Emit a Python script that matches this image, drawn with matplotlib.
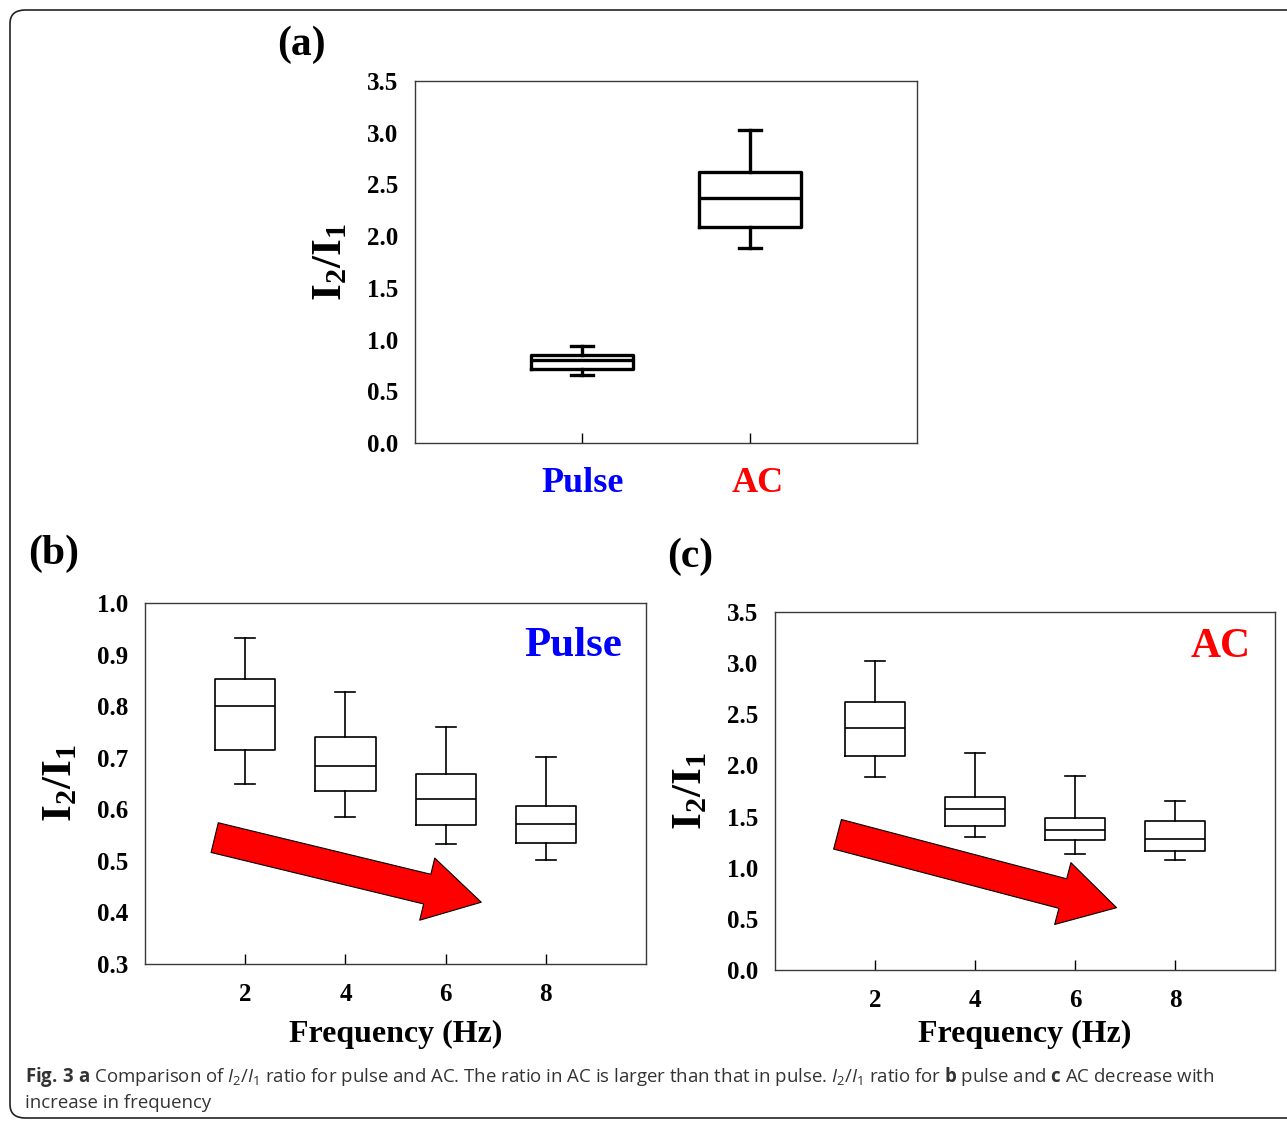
import matplotlib
matplotlib.use("Agg")
import matplotlib.pyplot as plt
from matplotlib.patches import FancyBboxPatch
from matplotlib.transforms import ScaledTranslation

plt.rcParams["mathtext.fontset"] = "custom"
plt.rcParams["mathtext.bf"] = "Liberation Serif:bold"
plt.rcParams["mathtext.rm"] = "Open Sans"
plt.rcParams["mathtext.it"] = "Open Sans:italic"
plt.rcParams["mathtext.sf"] = "Open Sans:bold"

SERIF = "Liberation Serif"
BLUE = "#0000ff"
RED = "#ff0000"

# (a) pulse vs AC
mode_labels = ["Pulse", "AC"]
mode_colors = [BLUE, RED]
mode_whislo = [0.66, 1.89]
mode_q1 = [0.72, 2.09]
mode_med = [0.80, 2.37]
mode_q3 = [0.85, 2.62]
mode_whishi = [0.94, 3.03]

# (b) pulse vs frequency
freq = [2, 4, 6, 8]
pulse_whislo = [0.648, 0.585, 0.533, 0.502]
pulse_q1 = [0.715, 0.636, 0.569, 0.534]
pulse_med = [0.801, 0.683, 0.619, 0.572]
pulse_q3 = [0.852, 0.740, 0.668, 0.607]
pulse_whishi = [0.932, 0.827, 0.760, 0.702]

# (c) AC vs frequency
ac_whislo = [1.89, 1.30, 1.13, 1.08]
ac_q1 = [2.09, 1.41, 1.27, 1.16]
ac_med = [2.37, 1.57, 1.37, 1.28]
ac_q3 = [2.62, 1.69, 1.49, 1.46]
ac_whishi = [3.02, 2.12, 1.90, 1.65]


def make_stats(lo, q1, med, q3, hi):
    return [dict(whislo=a, q1=b, med=c, q3=d, whishi=e, fliers=[])
            for a, b, c, d, e in zip(lo, q1, med, q3, hi)]


def draw_boxes(ax, stats, positions, width, capwidth, lw):
    line = dict(color="black", linewidth=lw)
    ax.bxp(stats, positions=positions, widths=width, capwidths=capwidth,
           showfliers=False, manage_ticks=False,
           boxprops=line, whiskerprops=line, capprops=line, medianprops=line)


def style_axes(ax):
    for sp in ax.spines.values():
        sp.set_color("#3a3a3a")
        sp.set_linewidth(1.0)
    ax.tick_params(axis="x", direction="in", length=7, width=1, pad=14,
                   labelsize=18)
    ax.tick_params(axis="y", length=0, pad=12, labelsize=18)
    for lab in ax.get_xticklabels() + ax.get_yticklabels():
        lab.set_fontfamily(SERIF)
        lab.set_fontweight("bold")
    ax.set_ylabel(r"$\mathbf{I_2/I_1}$", fontsize=31)
    ax.yaxis.set_label_coords(-0.13, 0.5)


def add_arrow(ax, tail, tip):
    ax.annotate("", xy=tip, xytext=tail, xycoords="axes fraction",
                textcoords="axes fraction",
                arrowprops=dict(arrowstyle="simple,head_length=40,head_width=46,tail_width=22",
                                mutation_scale=1, fc=RED, ec="black", lw=0.8,
                                shrinkA=0, shrinkB=0))


fig = plt.figure(figsize=(12.87, 11.21), dpi=100)

border = FancyBboxPatch((10 / 1287, 3 / 1121), 1300 / 1287, 1108 / 1121,
                        boxstyle="round,pad=0,rounding_size=0.012",
                        transform=fig.transFigure, fill=False,
                        ec="#222222", lw=1.2, clip_on=False)
fig.patches.append(border)

# ---- (a)
ax_a = fig.add_axes([0.3225, 0.6048, 0.390, 0.3229])
draw_boxes(ax_a, make_stats(mode_whislo, mode_q1, mode_med, mode_q3, mode_whishi),
           [1, 2], 0.61, 0.13, 2.4)
ax_a.set_xlim(0, 3)
ax_a.set_ylim(0, 3.5)
ax_a.set_xticks([1, 2])
ax_a.set_xticklabels(mode_labels)
ax_a.set_yticks([0, 0.5, 1.0, 1.5, 2.0, 2.5, 3.0, 3.5])
ax_a.set_yticklabels([f"{v:.1f}" for v in ax_a.get_yticks()])
style_axes(ax_a)
ax_a.tick_params(axis="x", pad=17)
for lab, col in zip(ax_a.get_xticklabels(), mode_colors):
    lab.set_color(col)
    lab.set_fontsize(26)
# the AC label sits a little right of its tick in the original
ac_lab = ax_a.get_xticklabels()[1]
ac_lab.set_transform(ac_lab.get_transform() + ScaledTranslation(8 / 100, 0, fig.dpi_scale_trans))

# ---- (b)
ax_b = fig.add_axes([0.1127, 0.1401, 0.3893, 0.3220])
draw_boxes(ax_b, make_stats(pulse_whislo, pulse_q1, pulse_med, pulse_q3, pulse_whishi),
           freq, 1.2, 0.4, 1.2)
ax_b.set_xlim(0, 10)
ax_b.set_ylim(0.3, 1.0)
ax_b.set_xticks(freq)
ax_b.set_yticks([0.3, 0.4, 0.5, 0.6, 0.7, 0.8, 0.9, 1.0])
ax_b.set_yticklabels([f"{v:.1f}" for v in ax_b.get_yticks()])
style_axes(ax_b)
ax_b.set_xlabel("Frequency (Hz)", fontsize=23, fontfamily=SERIF, fontweight="bold")
ax_b.xaxis.set_label_coords(0.5, -0.155)
ax_b.text(0.854, 0.881, "Pulse", transform=ax_b.transAxes, color=BLUE,
          fontsize=31, fontfamily=SERIF, fontweight="bold", ha="center", va="center")
add_arrow(ax_b, (0.139, 0.35), (0.671, 0.171))

# ---- (c)
ax_c = fig.add_axes([0.6022, 0.1347, 0.3885, 0.3194])
draw_boxes(ax_c, make_stats(ac_whislo, ac_q1, ac_med, ac_q3, ac_whishi),
           freq, 1.2, 0.4, 1.2)
ax_c.set_xlim(0, 10)
ax_c.set_ylim(0, 3.5)
ax_c.set_xticks(freq)
ax_c.set_yticks([0, 0.5, 1.0, 1.5, 2.0, 2.5, 3.0, 3.5])
ax_c.set_yticklabels([f"{v:.1f}" for v in ax_c.get_yticks()])
style_axes(ax_c)
ax_c.set_xlabel("Frequency (Hz)", fontsize=23, fontfamily=SERIF, fontweight="bold")
ax_c.xaxis.set_label_coords(0.5, -0.14)
ax_c.text(0.892, 0.902, "AC", transform=ax_c.transAxes, color=RED,
          fontsize=30, fontfamily=SERIF, fontweight="bold", ha="center", va="center")
add_arrow(ax_c, (0.125, 0.379), (0.683, 0.174))

# panel letters
for txt, x, y in [("(a)", 301, 45), ("(b)", 54, 554), ("(c)", 690, 557)]:
    fig.text(x / 1287, 1 - y / 1121, txt, fontsize=30, fontfamily=SERIF,
             fontweight="bold", ha="center", va="center")

# caption
cap1 = (r"$\mathsf{Fig.\,3\ a}$ Comparison of $\mathit{I}_{\mathrm{2}}/\mathit{I}_{\mathrm{1}}$"
        r" ratio for pulse and AC. The ratio in AC is larger than that in pulse. "
        r"$\mathit{I}_{\mathrm{2}}/\mathit{I}_{\mathrm{1}}$ ratio for $\mathsf{b}$ pulse and "
        r"$\mathsf{c}$ AC decrease with")
cap2 = "increase in frequency"
fig.text(25 / 1287, 1 - 1077 / 1121, cap1, fontsize=13.4, fontfamily="Open Sans",
         color="#333333", ha="left", va="center")
fig.text(25 / 1287, 1 - 1103 / 1121, cap2, fontsize=13.4, fontfamily="Open Sans",
         color="#333333", ha="left", va="center")

fig.savefig("out.png", dpi=100)
